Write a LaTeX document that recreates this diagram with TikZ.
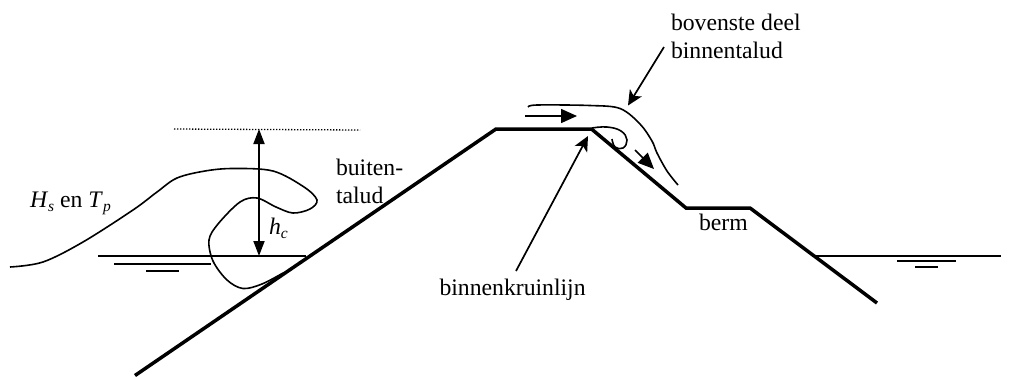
\documentclass[tikz,border=0pt]{standalone}
\usepackage{fontspec}
\setmainfont{Liberation Serif}
\usetikzlibrary{arrows.meta}
\newcommand{\subit}[1]{\raisebox{-4.5pt}{\fontsize{15.5}{16}\selectfont\itshape #1}}
\tikzset{
  x=1pt,y=-1pt,
  lbl/.style={anchor=base west,inner sep=0pt,outer sep=0pt,font=\fontsize{23.7}{24}\selectfont},
  dike/.style={line width=3.5pt,line join=miter,line cap=butt},
  thin line/.style={line width=1.6pt},
  water/.style={line width=1.6pt},
  bighead/.style={-{Triangle[length=16pt,width=14pt]},line width=1.6pt},
  smallhead/.style={-{Stealth[length=15pt,width=14pt,inset=4pt]},line width=1.7pt},
  dblhead/.style={{Triangle[length=15pt,width=11pt]}-{Triangle[length=15pt,width=11pt]},line width=1.8pt},
}
\begin{document}
\begin{tikzpicture}
\useasboundingbox (0,0) rectangle (1031,376);
% named points
\coordinate (d0) at (135,375.5);
\coordinate (d1) at (496,129);
\coordinate (d2) at (591.5,129);
\coordinate (d3) at (686,208);
\coordinate (d4) at (750,208);
\coordinate (d5) at (877,303);
\coordinate (top) at (259,129);
\coordinate (lvl) at (259,256);
% dike
\draw[dike] (d0) -- (d1) -- (d2) -- (d3) -- (d4) -- (d5);
% water left
\coordinate (wl0) at (98,256); \coordinate (wl1) at (306,256);
\draw[water] (wl0) -- (wl1);
\coordinate (wl2) at (114,264); \coordinate (wl3) at (211,264);
\draw[water] (wl2) -- (wl3);
\coordinate (wl4) at (146,271); \coordinate (wl5) at (179,271);
\draw[water] (wl4) -- (wl5);
% water right
\coordinate (wr0) at (815,256); \coordinate (wr1) at (1001,256);
\draw[water] (wr0) -- (wr1);
\coordinate (wr2) at (897,261); \coordinate (wr3) at (956,261);
\draw[water] (wr2) -- (wr3);
\coordinate (wr4) at (915,267); \coordinate (wr5) at (938,267);
\draw[water] (wr4) -- (wr5);
% dotted crest level
\coordinate (dt0) at (174,129); \coordinate (dt1) at (360,130);
\draw[line width=1.3pt,dash pattern=on 1.4pt off 1.6pt] (dt0) -- (dt1);
% hc arrow
\draw[dblhead] (top) -- (lvl);
% wave
\draw[thin line] plot[smooth,tension=0.55] coordinates {
 (10,267) (43,262) (83,242) (133,210) (157,192) (177,178) (205,171) (233,168.5) (273,171) (304,187) (317,200)
 (310,209) (293,213) (276,207) (257,198) (240,202) (218,224) (209,240) (213,261) (227,280) (243,288.5) (262,284) (283,273)};
% overflow
\draw[thin line] plot[smooth,tension=0.55] coordinates {
 (528,107) (537,105) (590,105.5) (620,108.5) (640,124) (652,141) (657,153) (667,171) (678,185)};
\draw[thin line] plot[smooth,tension=0.7] coordinates {
 (592,128) (607,127) (621,131) (627,140) (623,148) (615,147) (612,139)};
\draw[bighead] (525,116) -- (577,116);
\draw[bighead] (635,150) -- (654,169);
% labels
\node[lbl] (n1) at (671,30) {bovenste deel};
\node[lbl] (n2) at (671,58) {binnentalud};
\node[lbl] (n3) at (336,175) {buiten-};
\node[lbl] (n4) at (336,203) {talud};
\node[lbl] (n5) at (30,207) {\textit{H}\subit{s} en \textit{T}\subit{p}};
\node[lbl] (n6) at (269,234) {\textit{h}\subit{c}};
\node[lbl] (n7) at (699,230) {berm};
\node[lbl] (n8) at (439.5,295) {binnenkruinlijn};
% leaders
\coordinate (l0) at (664,47); \coordinate (l1) at (628,105.5);
\draw[smallhead] (l0) -- (l1);
\coordinate (l2) at (516,271); \coordinate (l3) at (588,136);
\draw[smallhead] (l2) -- (l3);
\end{tikzpicture}
\end{document}
